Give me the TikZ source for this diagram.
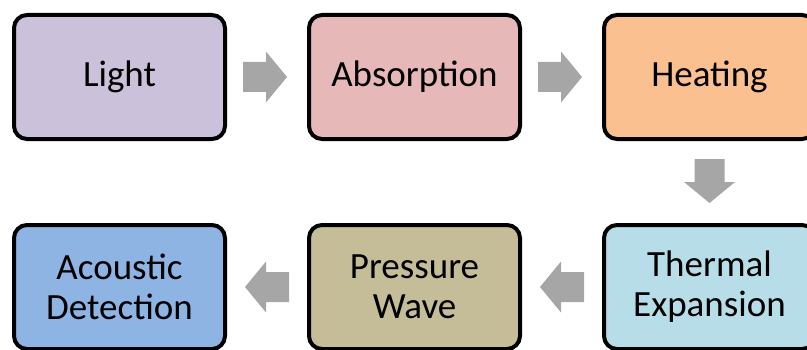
\documentclass[tikz,border=0pt]{standalone}
\usepackage{fontspec}
\setmainfont{Carlito}
\usetikzlibrary{calc}
\definecolor{cLight}{HTML}{CCC1DA}
\definecolor{cAbs}{HTML}{E6B9B8}
\definecolor{cHeat}{HTML}{FAC090}
\definecolor{cTherm}{HTML}{B7DEE8}
\definecolor{cPress}{HTML}{C4BD97}
\definecolor{cAcou}{HTML}{8EB4E3}
\definecolor{cArrow}{HTML}{A6A6A6}
\tikzset{
  stagebox/.style={draw=black, line width=4pt, rounded corners=13pt,
    minimum width=211pt, minimum height=124pt, inner sep=0pt,
    align=center, font=\fontsize{37}{40}\selectfont, text=black},
  arrowfill/.style={fill=cArrow, draw=none}
}
% block arrow centred at #1, pointing in direction #2 (degrees)
\newcommand\flowarrow[2]{%
  \fill[arrowfill, shift={(#1)}, rotate=#2]
    (-22,-15) -- (1,-15) -- (1,-25.5) -- (22,0) -- (1,25.5) -- (1,15) -- (-22,15) -- cycle;}
\begin{document}
\begin{tikzpicture}[x=1pt, y=1pt]
  \useasboundingbox (0,0) rectangle (807,349);
  % top row
  \node[stagebox, fill=cLight] (light) at (119.5,272) {Light};
  \node[stagebox, fill=cAbs]   (abs)   at (414.5,272) {Absorption};
  \node[stagebox, fill=cHeat]  (heat)  at (709.5,272) {Heating};
  % bottom row
  \node[stagebox, fill=cTherm] (therm) at (709.5,62) {Thermal\\Expansion};
  \node[stagebox, fill=cPress] (press) at (414.5,62) {Pressure\\Wave};
  \node[stagebox, fill=cAcou]  (acou)  at (119.5,62) {Acoustic\\Detection};
  % connectors
  \coordinate (a1) at ($(light.east)!0.5!(abs.west)+(-2,0)$);
  \coordinate (a2) at ($(abs.east)!0.5!(heat.west)+(-2,0)$);
  \coordinate (a3) at ($(heat.south)!0.5!(therm.north)+(0,1)$);
  \coordinate (a4) at ($(therm.west)!0.5!(press.east)$);
  \coordinate (a5) at ($(press.west)!0.5!(acou.east)$);
  \flowarrow{a1}{0}
  \flowarrow{a2}{0}
  \flowarrow{a3}{-90}
  \flowarrow{a4}{180}
  \flowarrow{a5}{180}
\end{tikzpicture}
\end{document}
